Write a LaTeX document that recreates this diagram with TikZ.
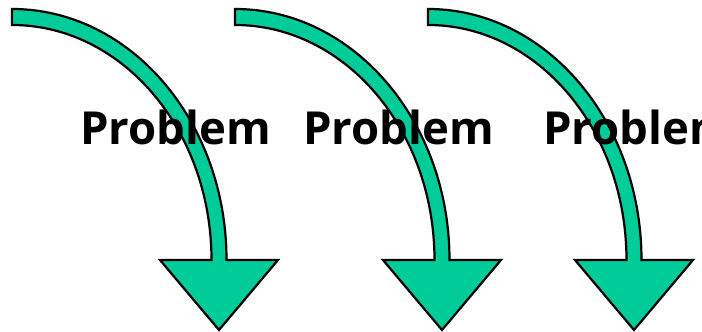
\documentclass[tikz,border=0pt]{standalone}
\usepackage{fontspec}
\setmainfont{Open Sans}
\newfontfamily\probfont{Open Sans}
\usetikzlibrary{positioning}
\definecolor{arrowgreen}{RGB}{0,204,153}

\begin{document}
\begin{tikzpicture}[
  x=1pt, y=1pt,
  bentarrow/.style={
    draw=black, fill=arrowgreen,
    line width=2.2pt, line join=miter
  },
  problabel/.style={
    anchor=base west, inner sep=0pt,
    font=\probfont\bfseries\fontsize{45.5}{48}\selectfont
  }
]

\clip (0,0) rectangle (702,332);

% Arrows (start x / head x)
\foreach \s/\c in {12/219, 235/442, 428/634} {
  \draw[bentarrow] (\s,323)
    arc[start angle=90, end angle=0, x radius={\c+7.5-\s}, y radius=251]
    -- (\c+59,72) -- (\c,2) -- (\c-59,72) -- (\c-7.5,72)
    arc[start angle=0, end angle=90, x radius={\c-7.5-\s}, y radius=235]
    -- cycle;
}

% Labels
\node[problabel] (p1) at (80,187) {Problem};
\node[problabel] (p2) at (303,187) {Problem};
\node[problabel] (p3) at (543,187) {Problem};

\end{tikzpicture}
\end{document}
